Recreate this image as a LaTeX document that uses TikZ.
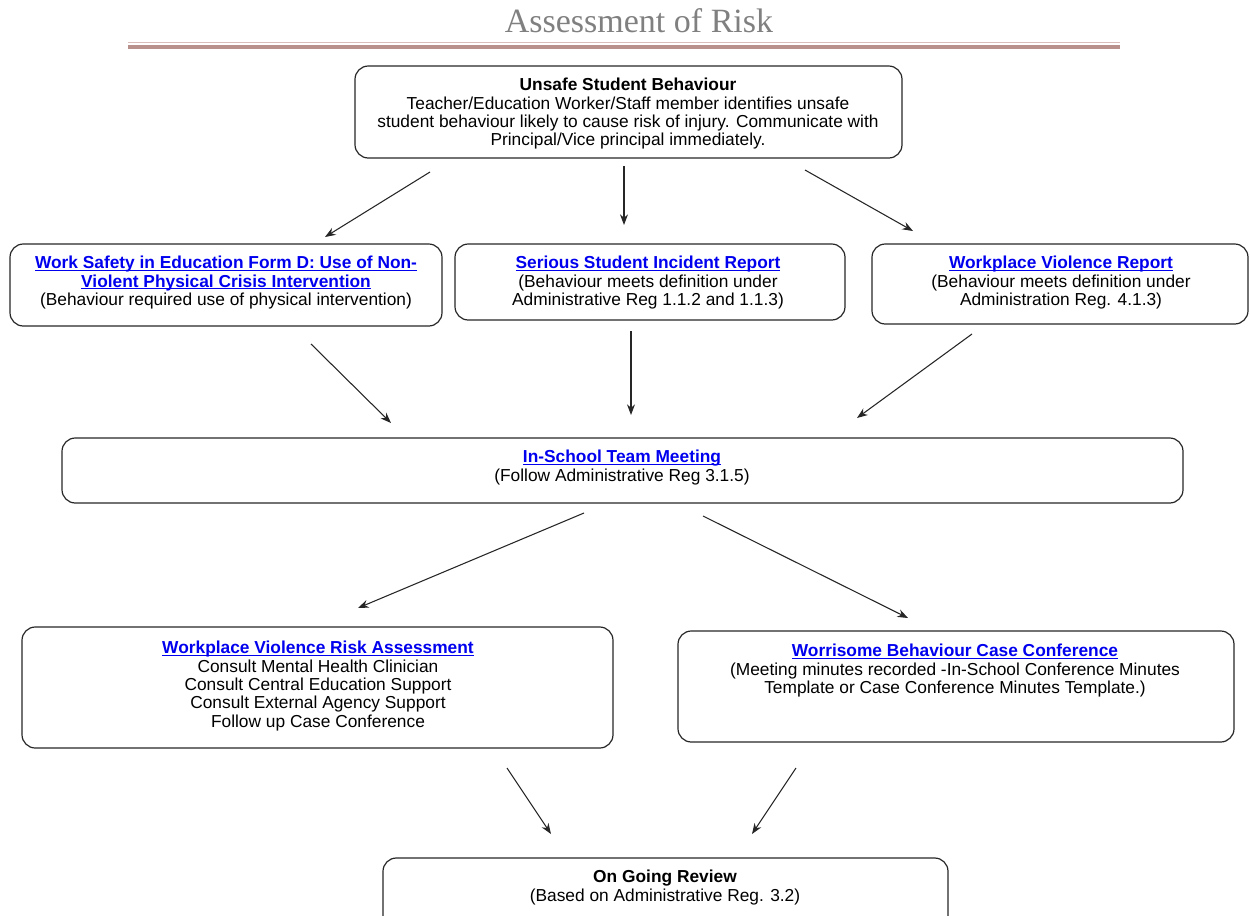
\documentclass[tikz,border=0pt]{standalone}
\usepackage{fontspec}
\setmainfont{Liberation Sans}
\newfontfamily\titlefont{Liberation Serif}
\usetikzlibrary{arrows.meta}
\definecolor{linkblue}{RGB}{0,0,238}
\definecolor{titlegray}{RGB}{128,128,128}
\definecolor{rulerose}{RGB}{185,145,140}
\definecolor{rulelight}{RGB}{215,190,186}
\newsavebox\lnkbox
\newcommand\lnk[1]{\sbox\lnkbox{\color{linkblue}\textbf{#1}}{\color{linkblue}\usebox\lnkbox\llap{\rule[-1.6pt]{\wd\lnkbox}{0.8pt}}}}
\begin{document}
\begin{tikzpicture}[x=0.75pt,y=-0.75pt,
  box/.style 2 args={draw=black!85, line width=0.9pt, rounded corners=10pt,
    minimum width=#1*0.75pt, minimum height=#2*0.75pt, inner sep=0pt},
  txt/.style={align=center, inner sep=0pt, anchor=north,
    font=\fontsize{13}{13.75}\selectfont},
  arr/.style={draw=black!85, line width=0.8pt, -{Stealth[length=8pt,width=6pt]}}]
\useasboundingbox (0,0) rectangle (1250,915);
% title
\node[font=\titlefont\fontsize{25.5}{30}\selectfont, text=titlegray] (title) at (639,21) {Assessment of Risk};
\draw[rulelight, line width=1.2pt] (128,42.5) -- (1120,42.5);
\draw[rulerose, line width=2.6pt] (128,46.8) -- (1120,46.8);
% boxes
\node[box={547}{92}] (top) at (628.5,112) {};
\node[box={432}{82}] (left) at (226,285) {};
\node[box={390}{76}] (mid) at (650,282) {};
\node[box={376}{80}] (right) at (1060,284) {};
\node[box={1121}{65}] (meet) at (622.5,470.5) {};
\node[box={591}{121}] (wvra) at (317.5,687.5) {};
\node[box={556}{111}] (worr) at (956,686.5) {};
\node[box={565}{78}] (ong) at (665.5,897) {};
% texts
\node[txt] (ttop) at (628,78) {\textbf{Unsafe Student Behaviour}\\Teacher/Education Worker/Staff member identifies unsafe\\student behaviour likely to cause risk of injury. Communicate with\\Principal/Vice principal immediately.};
\node[txt] (tleft) at (226,256) {\lnk{Work Safety in Education Form D: Use of Non-}\\\lnk{Violent Physical Crisis Intervention}\\(Behaviour required use of physical intervention)};
\node[txt] (tmid) at (648,256) {\lnk{Serious Student Incident Report}\\(Behaviour meets definition under\\Administrative Reg 1.1.2 and 1.1.3)};
\node[txt] (tright) at (1061,256) {\lnk{Workplace Violence Report}\\(Behaviour meets definition under\\Administration Reg. 4.1.3)};
\node[txt] (tmeet) at (622,450) {\lnk{In-School Team Meeting}\\(Follow Administrative Reg 3.1.5)};
\node[txt] (twvra) at (318,641) {\lnk{Workplace Violence Risk Assessment}\\Consult Mental Health Clinician\\Consult Central Education Support\\Consult External Agency Support\\Follow up Case Conference};
\node[txt] (tworr) at (955,644) {\lnk{Worrisome Behaviour Case Conference}\\(Meeting minutes recorded -In-School Conference Minutes\\Template or Case Conference Minutes Template.)};
\node[txt] (tong) at (665,870) {\textbf{On Going Review}\\(Based on Administrative Reg. 3.2)};
% connector end points
\coordinate (a1s) at (430,172); \coordinate (a1e) at (325,237);
\coordinate (a2s) at (624,166); \coordinate (a2e) at (624,225);
\coordinate (a3s) at (805,170); \coordinate (a3e) at (913,231);
\coordinate (b1s) at (311,344); \coordinate (b1e) at (391,423);
\coordinate (b2s) at (631,331); \coordinate (b2e) at (631,415);
\coordinate (b3s) at (972,334); \coordinate (b3e) at (857,418);
\coordinate (c1s) at (584,513); \coordinate (c1e) at (358,608);
\coordinate (c2s) at (703,516); \coordinate (c2e) at (908,618);
\coordinate (d1s) at (507,768); \coordinate (d1e) at (551,834);
\coordinate (d2s) at (796,768); \coordinate (d2e) at (752,834);
\foreach \p in {a1,a2,a3,b1,b2,b3,c1,c2,d1,d2}
  \draw[arr] (\p s) -- (\p e);
\end{tikzpicture}
\end{document}
